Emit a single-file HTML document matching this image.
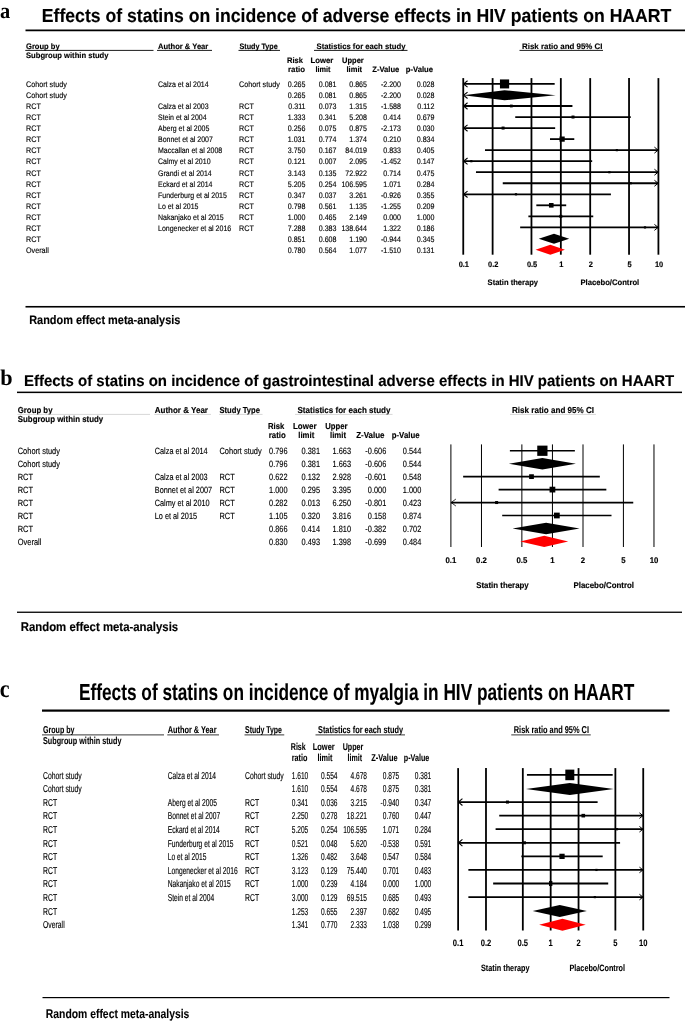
<!DOCTYPE html>
<html lang="en">
<head>
<meta charset="utf-8">
<title>Effects of statins in HIV patients on HAART - forest plots</title>
<style>
html,body{margin:0;padding:0;background:#fff;}
body{width:685px;height:1023px;overflow:hidden;}
svg{display:block;will-change:transform;}
text{font-family:"Liberation Sans",sans-serif;fill:#000;}
text.r{stroke:#000;stroke-width:0.14px;}
text.b{font-weight:bold;stroke:#000;stroke-width:0.15px;}
g.pc text.r{stroke-width:0.14px;}
g.pc text.b{stroke-width:0.08px;}
text.sb{font-family:"Liberation Serif",serif;font-weight:bold;}
</style>
</head>
<body>
<svg width="685" height="1023" viewBox="0 0 685 1023" shape-rendering="auto" text-rendering="geometricPrecision">
<rect x="0" y="0" width="685" height="1023" fill="#fff"/>
<g id="panel-a" class="pa">
<text class="sb" x="0.10" y="18.00" font-size="22.00" textLength="10.20" lengthAdjust="spacingAndGlyphs">a</text>
<text class="b" x="41.80" y="22.00" font-size="18.90" textLength="629.50" lengthAdjust="spacingAndGlyphs">Effects of statins on incidence of adverse effects in HIV patients on HAART</text>
<rect x="25.50" y="29.50" width="659.50" height="1.75" fill="#000"/>
<rect x="25.50" y="305.95" width="659.50" height="1.60" fill="#000"/>
<text class="b" x="26.00" y="48.60" font-size="8.00" textLength="33.60" lengthAdjust="spacingAndGlyphs">Group by</text>
<text class="b" x="26.00" y="58.00" font-size="8.00" textLength="82.50" lengthAdjust="spacingAndGlyphs">Subgroup within study</text>
<text class="b" x="158.00" y="48.60" font-size="8.00" textLength="50.25" lengthAdjust="spacingAndGlyphs">Author &amp; Year</text>
<text class="b" x="239.50" y="48.60" font-size="8.00" textLength="38.25" lengthAdjust="spacingAndGlyphs">Study Type</text>
<text class="b" x="316.50" y="48.60" font-size="8.00" textLength="89.00" lengthAdjust="spacingAndGlyphs">Statistics for each study</text>
<text class="b" x="522.00" y="48.60" font-size="8.00" textLength="80.50" lengthAdjust="spacingAndGlyphs">Risk ratio and 95% CI</text>
<text class="b" x="287.00" y="62.75" font-size="8.00" textLength="16.00" lengthAdjust="spacingAndGlyphs">Risk</text>
<text class="b" x="288.00" y="71.75" font-size="8.00" textLength="17.00" lengthAdjust="spacingAndGlyphs">ratio</text>
<text class="b" x="310.50" y="62.75" font-size="8.00" textLength="22.75" lengthAdjust="spacingAndGlyphs">Lower</text>
<text class="b" x="315.50" y="71.75" font-size="8.00" textLength="15.00" lengthAdjust="spacingAndGlyphs">limit</text>
<text class="b" x="342.00" y="62.75" font-size="8.00" textLength="21.75" lengthAdjust="spacingAndGlyphs">Upper</text>
<text class="b" x="346.50" y="71.75" font-size="8.00" textLength="15.50" lengthAdjust="spacingAndGlyphs">limit</text>
<text class="b" x="372.25" y="71.75" font-size="8.00" textLength="27.00" lengthAdjust="spacingAndGlyphs">Z-Value</text>
<text class="b" x="405.75" y="71.75" font-size="8.00" textLength="27.25" lengthAdjust="spacingAndGlyphs">p-Value</text>
<line x1="25.30" y1="50.40" x2="153.50" y2="50.40" stroke="#000" stroke-width="0.90"/>
<line x1="157.00" y1="50.40" x2="212.00" y2="50.40" stroke="#000" stroke-width="0.90"/>
<line x1="238.50" y1="50.40" x2="280.00" y2="50.40" stroke="#000" stroke-width="0.90"/>
<line x1="314.00" y1="50.40" x2="407.50" y2="50.40" stroke="#000" stroke-width="0.90"/>
<line x1="519.50" y1="50.40" x2="603.00" y2="50.40" stroke="#000" stroke-width="0.90"/>
<text class="b" x="29.20" y="323.90" font-size="12.30" textLength="151.20" lengthAdjust="spacingAndGlyphs">Random effect meta-analysis</text>
<text class="r" x="26.00" y="87.00" font-size="8.00" textLength="40.82" lengthAdjust="spacingAndGlyphs">Cohort study</text>
<text class="r" x="158.00" y="87.00" font-size="8.00" textLength="50.59" lengthAdjust="spacingAndGlyphs">Calza et al 2014</text>
<text class="r" x="239.00" y="87.00" font-size="8.00" textLength="40.82" lengthAdjust="spacingAndGlyphs">Cohort study</text>
<text class="r" x="305.50" y="87.00" font-size="8.00" text-anchor="end" textLength="17.72" lengthAdjust="spacingAndGlyphs">0.265</text>
<text class="r" x="336.50" y="87.00" font-size="8.00" text-anchor="end" textLength="17.72" lengthAdjust="spacingAndGlyphs">0.081</text>
<text class="r" x="367.00" y="87.00" font-size="8.00" text-anchor="end" textLength="17.72" lengthAdjust="spacingAndGlyphs">0.865</text>
<text class="r" x="401.00" y="87.00" font-size="8.00" text-anchor="end" textLength="20.08" lengthAdjust="spacingAndGlyphs">-2.200</text>
<text class="r" x="434.50" y="87.00" font-size="8.00" text-anchor="end" textLength="17.72" lengthAdjust="spacingAndGlyphs">0.028</text>
<text class="r" x="26.00" y="98.07" font-size="8.00" textLength="40.82" lengthAdjust="spacingAndGlyphs">Cohort study</text>
<text class="r" x="305.50" y="98.07" font-size="8.00" text-anchor="end" textLength="17.72" lengthAdjust="spacingAndGlyphs">0.265</text>
<text class="r" x="336.50" y="98.07" font-size="8.00" text-anchor="end" textLength="17.72" lengthAdjust="spacingAndGlyphs">0.081</text>
<text class="r" x="367.00" y="98.07" font-size="8.00" text-anchor="end" textLength="17.72" lengthAdjust="spacingAndGlyphs">0.865</text>
<text class="r" x="401.00" y="98.07" font-size="8.00" text-anchor="end" textLength="20.08" lengthAdjust="spacingAndGlyphs">-2.200</text>
<text class="r" x="434.50" y="98.07" font-size="8.00" text-anchor="end" textLength="17.72" lengthAdjust="spacingAndGlyphs">0.028</text>
<text class="r" x="26.00" y="109.14" font-size="8.00" textLength="14.80" lengthAdjust="spacingAndGlyphs">RCT</text>
<text class="r" x="158.00" y="109.14" font-size="8.00" textLength="50.59" lengthAdjust="spacingAndGlyphs">Calza et al 2003</text>
<text class="r" x="239.00" y="109.14" font-size="8.00" textLength="14.80" lengthAdjust="spacingAndGlyphs">RCT</text>
<text class="r" x="305.50" y="109.14" font-size="8.00" text-anchor="end" textLength="17.19" lengthAdjust="spacingAndGlyphs">0.311</text>
<text class="r" x="336.50" y="109.14" font-size="8.00" text-anchor="end" textLength="17.72" lengthAdjust="spacingAndGlyphs">0.073</text>
<text class="r" x="367.00" y="109.14" font-size="8.00" text-anchor="end" textLength="17.72" lengthAdjust="spacingAndGlyphs">1.315</text>
<text class="r" x="401.00" y="109.14" font-size="8.00" text-anchor="end" textLength="20.08" lengthAdjust="spacingAndGlyphs">-1.588</text>
<text class="r" x="434.50" y="109.14" font-size="8.00" text-anchor="end" textLength="17.19" lengthAdjust="spacingAndGlyphs">0.112</text>
<text class="r" x="26.00" y="120.21" font-size="8.00" textLength="14.80" lengthAdjust="spacingAndGlyphs">RCT</text>
<text class="r" x="158.00" y="120.21" font-size="8.00" textLength="48.65" lengthAdjust="spacingAndGlyphs">Stein et al 2004</text>
<text class="r" x="239.00" y="120.21" font-size="8.00" textLength="14.80" lengthAdjust="spacingAndGlyphs">RCT</text>
<text class="r" x="305.50" y="120.21" font-size="8.00" text-anchor="end" textLength="17.72" lengthAdjust="spacingAndGlyphs">1.333</text>
<text class="r" x="336.50" y="120.21" font-size="8.00" text-anchor="end" textLength="17.72" lengthAdjust="spacingAndGlyphs">0.341</text>
<text class="r" x="367.00" y="120.21" font-size="8.00" text-anchor="end" textLength="17.72" lengthAdjust="spacingAndGlyphs">5.208</text>
<text class="r" x="401.00" y="120.21" font-size="8.00" text-anchor="end" textLength="17.72" lengthAdjust="spacingAndGlyphs">0.414</text>
<text class="r" x="434.50" y="120.21" font-size="8.00" text-anchor="end" textLength="17.72" lengthAdjust="spacingAndGlyphs">0.679</text>
<text class="r" x="26.00" y="131.28" font-size="8.00" textLength="14.80" lengthAdjust="spacingAndGlyphs">RCT</text>
<text class="r" x="158.00" y="131.28" font-size="8.00" textLength="51.37" lengthAdjust="spacingAndGlyphs">Aberg et al 2005</text>
<text class="r" x="239.00" y="131.28" font-size="8.00" textLength="14.80" lengthAdjust="spacingAndGlyphs">RCT</text>
<text class="r" x="305.50" y="131.28" font-size="8.00" text-anchor="end" textLength="17.72" lengthAdjust="spacingAndGlyphs">0.256</text>
<text class="r" x="336.50" y="131.28" font-size="8.00" text-anchor="end" textLength="17.72" lengthAdjust="spacingAndGlyphs">0.075</text>
<text class="r" x="367.00" y="131.28" font-size="8.00" text-anchor="end" textLength="17.72" lengthAdjust="spacingAndGlyphs">0.875</text>
<text class="r" x="401.00" y="131.28" font-size="8.00" text-anchor="end" textLength="20.08" lengthAdjust="spacingAndGlyphs">-2.173</text>
<text class="r" x="434.50" y="131.28" font-size="8.00" text-anchor="end" textLength="17.72" lengthAdjust="spacingAndGlyphs">0.030</text>
<text class="r" x="26.00" y="142.35" font-size="8.00" textLength="14.80" lengthAdjust="spacingAndGlyphs">RCT</text>
<text class="r" x="158.00" y="142.35" font-size="8.00" textLength="54.88" lengthAdjust="spacingAndGlyphs">Bonnet et al 2007</text>
<text class="r" x="239.00" y="142.35" font-size="8.00" textLength="14.80" lengthAdjust="spacingAndGlyphs">RCT</text>
<text class="r" x="305.50" y="142.35" font-size="8.00" text-anchor="end" textLength="17.72" lengthAdjust="spacingAndGlyphs">1.031</text>
<text class="r" x="336.50" y="142.35" font-size="8.00" text-anchor="end" textLength="17.72" lengthAdjust="spacingAndGlyphs">0.774</text>
<text class="r" x="367.00" y="142.35" font-size="8.00" text-anchor="end" textLength="17.72" lengthAdjust="spacingAndGlyphs">1.374</text>
<text class="r" x="401.00" y="142.35" font-size="8.00" text-anchor="end" textLength="17.72" lengthAdjust="spacingAndGlyphs">0.210</text>
<text class="r" x="434.50" y="142.35" font-size="8.00" text-anchor="end" textLength="17.72" lengthAdjust="spacingAndGlyphs">0.834</text>
<text class="r" x="26.00" y="153.42" font-size="8.00" textLength="14.80" lengthAdjust="spacingAndGlyphs">RCT</text>
<text class="r" x="158.00" y="153.42" font-size="8.00" textLength="64.21" lengthAdjust="spacingAndGlyphs">Maccallan et al 2008</text>
<text class="r" x="239.00" y="153.42" font-size="8.00" textLength="14.80" lengthAdjust="spacingAndGlyphs">RCT</text>
<text class="r" x="305.50" y="153.42" font-size="8.00" text-anchor="end" textLength="17.72" lengthAdjust="spacingAndGlyphs">3.750</text>
<text class="r" x="336.50" y="153.42" font-size="8.00" text-anchor="end" textLength="17.72" lengthAdjust="spacingAndGlyphs">0.167</text>
<text class="r" x="367.00" y="153.42" font-size="8.00" text-anchor="end" textLength="21.66" lengthAdjust="spacingAndGlyphs">84.019</text>
<text class="r" x="401.00" y="153.42" font-size="8.00" text-anchor="end" textLength="17.72" lengthAdjust="spacingAndGlyphs">0.833</text>
<text class="r" x="434.50" y="153.42" font-size="8.00" text-anchor="end" textLength="17.72" lengthAdjust="spacingAndGlyphs">0.405</text>
<text class="r" x="26.00" y="164.49" font-size="8.00" textLength="14.80" lengthAdjust="spacingAndGlyphs">RCT</text>
<text class="r" x="158.00" y="164.49" font-size="8.00" textLength="52.53" lengthAdjust="spacingAndGlyphs">Calmy et al 2010</text>
<text class="r" x="239.00" y="164.49" font-size="8.00" textLength="14.80" lengthAdjust="spacingAndGlyphs">RCT</text>
<text class="r" x="305.50" y="164.49" font-size="8.00" text-anchor="end" textLength="17.72" lengthAdjust="spacingAndGlyphs">0.121</text>
<text class="r" x="336.50" y="164.49" font-size="8.00" text-anchor="end" textLength="17.72" lengthAdjust="spacingAndGlyphs">0.007</text>
<text class="r" x="367.00" y="164.49" font-size="8.00" text-anchor="end" textLength="17.72" lengthAdjust="spacingAndGlyphs">2.095</text>
<text class="r" x="401.00" y="164.49" font-size="8.00" text-anchor="end" textLength="20.08" lengthAdjust="spacingAndGlyphs">-1.452</text>
<text class="r" x="434.50" y="164.49" font-size="8.00" text-anchor="end" textLength="17.72" lengthAdjust="spacingAndGlyphs">0.147</text>
<text class="r" x="26.00" y="175.56" font-size="8.00" textLength="14.80" lengthAdjust="spacingAndGlyphs">RCT</text>
<text class="r" x="158.00" y="175.56" font-size="8.00" textLength="53.70" lengthAdjust="spacingAndGlyphs">Grandi et al 2014</text>
<text class="r" x="239.00" y="175.56" font-size="8.00" textLength="14.80" lengthAdjust="spacingAndGlyphs">RCT</text>
<text class="r" x="305.50" y="175.56" font-size="8.00" text-anchor="end" textLength="17.72" lengthAdjust="spacingAndGlyphs">3.143</text>
<text class="r" x="336.50" y="175.56" font-size="8.00" text-anchor="end" textLength="17.72" lengthAdjust="spacingAndGlyphs">0.135</text>
<text class="r" x="367.00" y="175.56" font-size="8.00" text-anchor="end" textLength="21.66" lengthAdjust="spacingAndGlyphs">72.922</text>
<text class="r" x="401.00" y="175.56" font-size="8.00" text-anchor="end" textLength="17.72" lengthAdjust="spacingAndGlyphs">0.714</text>
<text class="r" x="434.50" y="175.56" font-size="8.00" text-anchor="end" textLength="17.72" lengthAdjust="spacingAndGlyphs">0.475</text>
<text class="r" x="26.00" y="186.63" font-size="8.00" textLength="14.80" lengthAdjust="spacingAndGlyphs">RCT</text>
<text class="r" x="158.00" y="186.63" font-size="8.00" textLength="54.48" lengthAdjust="spacingAndGlyphs">Eckard et al 2014</text>
<text class="r" x="239.00" y="186.63" font-size="8.00" textLength="14.80" lengthAdjust="spacingAndGlyphs">RCT</text>
<text class="r" x="305.50" y="186.63" font-size="8.00" text-anchor="end" textLength="17.72" lengthAdjust="spacingAndGlyphs">5.205</text>
<text class="r" x="336.50" y="186.63" font-size="8.00" text-anchor="end" textLength="17.72" lengthAdjust="spacingAndGlyphs">0.254</text>
<text class="r" x="367.00" y="186.63" font-size="8.00" text-anchor="end" textLength="25.59" lengthAdjust="spacingAndGlyphs">106.595</text>
<text class="r" x="401.00" y="186.63" font-size="8.00" text-anchor="end" textLength="17.72" lengthAdjust="spacingAndGlyphs">1.071</text>
<text class="r" x="434.50" y="186.63" font-size="8.00" text-anchor="end" textLength="17.72" lengthAdjust="spacingAndGlyphs">0.284</text>
<text class="r" x="26.00" y="197.70" font-size="8.00" textLength="14.80" lengthAdjust="spacingAndGlyphs">RCT</text>
<text class="r" x="158.00" y="197.70" font-size="8.00" textLength="68.88" lengthAdjust="spacingAndGlyphs">Funderburg et al 2015</text>
<text class="r" x="239.00" y="197.70" font-size="8.00" textLength="14.80" lengthAdjust="spacingAndGlyphs">RCT</text>
<text class="r" x="305.50" y="197.70" font-size="8.00" text-anchor="end" textLength="17.72" lengthAdjust="spacingAndGlyphs">0.347</text>
<text class="r" x="336.50" y="197.70" font-size="8.00" text-anchor="end" textLength="17.72" lengthAdjust="spacingAndGlyphs">0.037</text>
<text class="r" x="367.00" y="197.70" font-size="8.00" text-anchor="end" textLength="17.72" lengthAdjust="spacingAndGlyphs">3.261</text>
<text class="r" x="401.00" y="197.70" font-size="8.00" text-anchor="end" textLength="20.08" lengthAdjust="spacingAndGlyphs">-0.926</text>
<text class="r" x="434.50" y="197.70" font-size="8.00" text-anchor="end" textLength="17.72" lengthAdjust="spacingAndGlyphs">0.355</text>
<text class="r" x="26.00" y="208.77" font-size="8.00" textLength="14.80" lengthAdjust="spacingAndGlyphs">RCT</text>
<text class="r" x="158.00" y="208.77" font-size="8.00" textLength="40.48" lengthAdjust="spacingAndGlyphs">Lo et al 2015</text>
<text class="r" x="239.00" y="208.77" font-size="8.00" textLength="14.80" lengthAdjust="spacingAndGlyphs">RCT</text>
<text class="r" x="305.50" y="208.77" font-size="8.00" text-anchor="end" textLength="17.72" lengthAdjust="spacingAndGlyphs">0.798</text>
<text class="r" x="336.50" y="208.77" font-size="8.00" text-anchor="end" textLength="17.72" lengthAdjust="spacingAndGlyphs">0.561</text>
<text class="r" x="367.00" y="208.77" font-size="8.00" text-anchor="end" textLength="17.72" lengthAdjust="spacingAndGlyphs">1.135</text>
<text class="r" x="401.00" y="208.77" font-size="8.00" text-anchor="end" textLength="20.08" lengthAdjust="spacingAndGlyphs">-1.255</text>
<text class="r" x="434.50" y="208.77" font-size="8.00" text-anchor="end" textLength="17.72" lengthAdjust="spacingAndGlyphs">0.209</text>
<text class="r" x="26.00" y="219.84" font-size="8.00" textLength="14.80" lengthAdjust="spacingAndGlyphs">RCT</text>
<text class="r" x="158.00" y="219.84" font-size="8.00" textLength="65.77" lengthAdjust="spacingAndGlyphs">Nakanjako et al 2015</text>
<text class="r" x="239.00" y="219.84" font-size="8.00" textLength="14.80" lengthAdjust="spacingAndGlyphs">RCT</text>
<text class="r" x="305.50" y="219.84" font-size="8.00" text-anchor="end" textLength="17.72" lengthAdjust="spacingAndGlyphs">1.000</text>
<text class="r" x="336.50" y="219.84" font-size="8.00" text-anchor="end" textLength="17.72" lengthAdjust="spacingAndGlyphs">0.465</text>
<text class="r" x="367.00" y="219.84" font-size="8.00" text-anchor="end" textLength="17.72" lengthAdjust="spacingAndGlyphs">2.149</text>
<text class="r" x="401.00" y="219.84" font-size="8.00" text-anchor="end" textLength="17.72" lengthAdjust="spacingAndGlyphs">0.000</text>
<text class="r" x="434.50" y="219.84" font-size="8.00" text-anchor="end" textLength="17.72" lengthAdjust="spacingAndGlyphs">1.000</text>
<text class="r" x="26.00" y="230.91" font-size="8.00" textLength="14.80" lengthAdjust="spacingAndGlyphs">RCT</text>
<text class="r" x="158.00" y="230.91" font-size="8.00" textLength="73.17" lengthAdjust="spacingAndGlyphs">Longenecker et al 2016</text>
<text class="r" x="239.00" y="230.91" font-size="8.00" textLength="14.80" lengthAdjust="spacingAndGlyphs">RCT</text>
<text class="r" x="305.50" y="230.91" font-size="8.00" text-anchor="end" textLength="17.72" lengthAdjust="spacingAndGlyphs">7.288</text>
<text class="r" x="336.50" y="230.91" font-size="8.00" text-anchor="end" textLength="17.72" lengthAdjust="spacingAndGlyphs">0.383</text>
<text class="r" x="367.00" y="230.91" font-size="8.00" text-anchor="end" textLength="25.59" lengthAdjust="spacingAndGlyphs">138.644</text>
<text class="r" x="401.00" y="230.91" font-size="8.00" text-anchor="end" textLength="17.72" lengthAdjust="spacingAndGlyphs">1.322</text>
<text class="r" x="434.50" y="230.91" font-size="8.00" text-anchor="end" textLength="17.72" lengthAdjust="spacingAndGlyphs">0.186</text>
<text class="r" x="26.00" y="241.98" font-size="8.00" textLength="14.80" lengthAdjust="spacingAndGlyphs">RCT</text>
<text class="r" x="305.50" y="241.98" font-size="8.00" text-anchor="end" textLength="17.72" lengthAdjust="spacingAndGlyphs">0.851</text>
<text class="r" x="336.50" y="241.98" font-size="8.00" text-anchor="end" textLength="17.72" lengthAdjust="spacingAndGlyphs">0.608</text>
<text class="r" x="367.00" y="241.98" font-size="8.00" text-anchor="end" textLength="17.72" lengthAdjust="spacingAndGlyphs">1.190</text>
<text class="r" x="401.00" y="241.98" font-size="8.00" text-anchor="end" textLength="20.08" lengthAdjust="spacingAndGlyphs">-0.944</text>
<text class="r" x="434.50" y="241.98" font-size="8.00" text-anchor="end" textLength="17.72" lengthAdjust="spacingAndGlyphs">0.345</text>
<text class="r" x="26.00" y="253.05" font-size="8.00" textLength="22.81" lengthAdjust="spacingAndGlyphs">Overall</text>
<text class="r" x="305.50" y="253.05" font-size="8.00" text-anchor="end" textLength="17.72" lengthAdjust="spacingAndGlyphs">0.780</text>
<text class="r" x="336.50" y="253.05" font-size="8.00" text-anchor="end" textLength="17.72" lengthAdjust="spacingAndGlyphs">0.564</text>
<text class="r" x="367.00" y="253.05" font-size="8.00" text-anchor="end" textLength="17.72" lengthAdjust="spacingAndGlyphs">1.077</text>
<text class="r" x="401.00" y="253.05" font-size="8.00" text-anchor="end" textLength="20.08" lengthAdjust="spacingAndGlyphs">-1.510</text>
<text class="r" x="434.50" y="253.05" font-size="8.00" text-anchor="end" textLength="17.72" lengthAdjust="spacingAndGlyphs">0.131</text>
<line x1="463.25" y1="78.10" x2="463.25" y2="254.70" stroke="#000" stroke-width="1.80"/>
<text class="b" x="463.85" y="267.00" font-size="7.90" text-anchor="middle" textLength="10.32" lengthAdjust="spacingAndGlyphs">0.1</text>
<line x1="492.62" y1="78.10" x2="492.62" y2="254.70" stroke="#000" stroke-width="1.80"/>
<text class="b" x="493.22" y="267.00" font-size="7.90" text-anchor="middle" textLength="10.32" lengthAdjust="spacingAndGlyphs">0.2</text>
<line x1="531.46" y1="78.10" x2="531.46" y2="254.70" stroke="#000" stroke-width="1.80"/>
<text class="b" x="532.06" y="267.00" font-size="7.90" text-anchor="middle" textLength="10.32" lengthAdjust="spacingAndGlyphs">0.5</text>
<line x1="560.83" y1="78.10" x2="560.83" y2="254.70" stroke="#000" stroke-width="1.80"/>
<text class="b" x="561.43" y="267.00" font-size="7.90" text-anchor="middle" textLength="4.13" lengthAdjust="spacingAndGlyphs">1</text>
<line x1="590.20" y1="78.10" x2="590.20" y2="254.70" stroke="#000" stroke-width="1.80"/>
<text class="b" x="590.80" y="267.00" font-size="7.90" text-anchor="middle" textLength="4.13" lengthAdjust="spacingAndGlyphs">2</text>
<line x1="629.04" y1="78.10" x2="629.04" y2="254.70" stroke="#000" stroke-width="1.80"/>
<text class="b" x="629.64" y="267.00" font-size="7.90" text-anchor="middle" textLength="4.13" lengthAdjust="spacingAndGlyphs">5</text>
<line x1="658.41" y1="78.10" x2="658.41" y2="254.70" stroke="#000" stroke-width="1.80"/>
<text class="b" x="659.01" y="267.00" font-size="7.90" text-anchor="middle" textLength="8.26" lengthAdjust="spacingAndGlyphs">10</text>
<text class="b" x="487.60" y="285.40" font-size="8.00" textLength="50.40" lengthAdjust="spacingAndGlyphs">Statin therapy</text>
<text class="b" x="580.50" y="285.40" font-size="8.00" textLength="58.70" lengthAdjust="spacingAndGlyphs">Placebo/Control</text>
<line x1="463.25" y1="83.93" x2="554.68" y2="83.93" stroke="#000" stroke-width="1.80"/>
<polyline points="467.55,80.73 463.55,83.93 467.55,87.13" fill="none" stroke="#000" stroke-width="1.1"/>
<rect x="499.95" y="79.43" width="9.20" height="9.00" fill="#000"/>
<polygon points="463.25,95.27 504.55,90.27 555.68,95.27 504.55,100.27" fill="#000"/>
<polyline points="467.55,92.06 463.55,95.27 467.55,98.47" fill="none" stroke="#000" stroke-width="1.1"/>
<line x1="463.25" y1="106.00" x2="572.43" y2="106.00" stroke="#000" stroke-width="1.80"/>
<polyline points="467.55,102.80 463.55,106.00 467.55,109.20" fill="none" stroke="#000" stroke-width="1.1"/>
<rect x="509.93" y="104.60" width="2.80" height="2.80" fill="#000"/>
<line x1="515.24" y1="117.04" x2="630.76" y2="117.04" stroke="#000" stroke-width="1.80"/>
<rect x="571.51" y="115.54" width="3.00" height="3.00" fill="#000"/>
<line x1="463.25" y1="128.07" x2="555.17" y2="128.07" stroke="#000" stroke-width="1.80"/>
<polyline points="467.55,124.87 463.55,128.07 467.55,131.27" fill="none" stroke="#000" stroke-width="1.1"/>
<rect x="501.59" y="126.57" width="3.00" height="3.00" fill="#000"/>
<line x1="549.97" y1="139.11" x2="574.29" y2="139.11" stroke="#000" stroke-width="1.80"/>
<rect x="559.52" y="136.51" width="5.20" height="5.20" fill="#000"/>
<line x1="484.98" y1="150.14" x2="658.41" y2="150.14" stroke="#000" stroke-width="1.80"/>
<polyline points="654.41,147.14 658.11,150.14 654.41,153.14" fill="none" stroke="#000" stroke-width="1.0"/>
<rect x="615.74" y="149.04" width="2.20" height="2.20" fill="#000"/>
<line x1="463.25" y1="161.18" x2="592.17" y2="161.18" stroke="#000" stroke-width="1.80"/>
<polyline points="467.55,157.98 463.55,161.18 467.55,164.38" fill="none" stroke="#000" stroke-width="1.1"/>
<rect x="470.23" y="160.08" width="2.20" height="2.20" fill="#000"/>
<line x1="475.97" y1="172.21" x2="658.41" y2="172.21" stroke="#000" stroke-width="1.80"/>
<polyline points="654.41,169.21 658.11,172.21 654.41,175.21" fill="none" stroke="#000" stroke-width="1.0"/>
<rect x="608.26" y="171.11" width="2.20" height="2.20" fill="#000"/>
<line x1="502.75" y1="183.25" x2="658.41" y2="183.25" stroke="#000" stroke-width="1.80"/>
<polyline points="654.41,180.25 658.11,183.25 654.41,186.25" fill="none" stroke="#000" stroke-width="1.0"/>
<rect x="629.64" y="182.15" width="2.20" height="2.20" fill="#000"/>
<line x1="463.25" y1="194.28" x2="610.92" y2="194.28" stroke="#000" stroke-width="1.80"/>
<polyline points="467.55,191.08 463.55,194.28 467.55,197.48" fill="none" stroke="#000" stroke-width="1.1"/>
<rect x="514.88" y="193.18" width="2.20" height="2.20" fill="#000"/>
<line x1="536.33" y1="205.31" x2="566.20" y2="205.31" stroke="#000" stroke-width="1.80"/>
<rect x="548.97" y="203.01" width="4.60" height="4.60" fill="#000"/>
<line x1="528.38" y1="216.35" x2="593.25" y2="216.35" stroke="#000" stroke-width="1.80"/>
<rect x="559.33" y="214.85" width="3.00" height="3.00" fill="#000"/>
<line x1="520.16" y1="227.39" x2="658.41" y2="227.39" stroke="#000" stroke-width="1.80"/>
<polyline points="654.41,224.39 658.11,227.39 654.41,230.39" fill="none" stroke="#000" stroke-width="1.0"/>
<rect x="643.90" y="226.29" width="2.20" height="2.20" fill="#000"/>
<polygon points="538.74,238.72 553.99,233.72 569.20,238.72 553.99,243.72" fill="#000"/>
<polygon points="535.56,249.76 550.30,244.76 564.97,249.76 550.30,254.76" fill="#f00"/>
</g>
<g id="panel-b" class="pb">
<text class="sb" x="0.30" y="385.00" font-size="22.20" textLength="12.35" lengthAdjust="spacingAndGlyphs">b</text>
<text class="b" x="24.00" y="385.75" font-size="15.60" textLength="650.20" lengthAdjust="spacingAndGlyphs">Effects of statins on incidence of gastrointestinal adverse effects in HIV patients on HAART</text>
<rect x="17.00" y="391.60" width="665.00" height="1.50" fill="#000"/>
<rect x="17.00" y="611.60" width="665.00" height="1.30" fill="#000"/>
<text class="b" x="17.75" y="413.00" font-size="8.70" textLength="34.75" lengthAdjust="spacingAndGlyphs">Group by</text>
<text class="b" x="17.75" y="421.75" font-size="8.70" textLength="85.50" lengthAdjust="spacingAndGlyphs">Subgroup within study</text>
<text class="b" x="154.75" y="413.00" font-size="8.70" textLength="53.25" lengthAdjust="spacingAndGlyphs">Author &amp; Year</text>
<text class="b" x="219.50" y="413.00" font-size="8.70" textLength="40.50" lengthAdjust="spacingAndGlyphs">Study Type</text>
<text class="b" x="297.50" y="413.00" font-size="8.70" textLength="93.00" lengthAdjust="spacingAndGlyphs">Statistics for each study</text>
<text class="b" x="512.00" y="412.60" font-size="8.70" textLength="82.00" lengthAdjust="spacingAndGlyphs">Risk ratio and 95% CI</text>
<text class="b" x="268.00" y="428.75" font-size="8.70" textLength="16.25" lengthAdjust="spacingAndGlyphs">Risk</text>
<text class="b" x="268.75" y="437.75" font-size="8.70" textLength="17.00" lengthAdjust="spacingAndGlyphs">ratio</text>
<text class="b" x="293.00" y="428.75" font-size="8.70" textLength="23.50" lengthAdjust="spacingAndGlyphs">Lower</text>
<text class="b" x="298.25" y="437.75" font-size="8.70" textLength="16.00" lengthAdjust="spacingAndGlyphs">limit</text>
<text class="b" x="325.25" y="428.75" font-size="8.70" textLength="22.25" lengthAdjust="spacingAndGlyphs">Upper</text>
<text class="b" x="330.00" y="437.75" font-size="8.70" textLength="16.00" lengthAdjust="spacingAndGlyphs">limit</text>
<text class="b" x="356.25" y="437.75" font-size="8.70" textLength="28.25" lengthAdjust="spacingAndGlyphs">Z-Value</text>
<text class="b" x="391.75" y="437.75" font-size="8.70" textLength="27.75" lengthAdjust="spacingAndGlyphs">p-Value</text>
<line x1="17.50" y1="414.40" x2="150.00" y2="414.40" stroke="#bbb" stroke-width="0.60"/>
<line x1="154.25" y1="414.40" x2="211.00" y2="414.40" stroke="#bbb" stroke-width="0.60"/>
<line x1="219.00" y1="414.40" x2="262.50" y2="414.40" stroke="#bbb" stroke-width="0.60"/>
<line x1="295.00" y1="414.40" x2="392.50" y2="414.40" stroke="#bbb" stroke-width="0.60"/>
<line x1="510.00" y1="414.40" x2="596.00" y2="414.40" stroke="#bbb" stroke-width="0.60"/>
<text class="b" x="20.70" y="630.70" font-size="12.60" textLength="157.50" lengthAdjust="spacingAndGlyphs">Random effect meta-analysis</text>
<text class="r" x="17.75" y="453.90" font-size="9.10" textLength="42.20" lengthAdjust="spacingAndGlyphs">Cohort study</text>
<text class="r" x="154.75" y="453.90" font-size="9.10" textLength="52.88" lengthAdjust="spacingAndGlyphs">Calza et al 2014</text>
<text class="r" x="219.50" y="453.90" font-size="9.10" textLength="42.20" lengthAdjust="spacingAndGlyphs">Cohort study</text>
<text class="r" x="287.50" y="453.90" font-size="9.10" text-anchor="end" textLength="18.42" lengthAdjust="spacingAndGlyphs">0.796</text>
<text class="r" x="320.00" y="453.90" font-size="9.10" text-anchor="end" textLength="18.42" lengthAdjust="spacingAndGlyphs">0.381</text>
<text class="r" x="351.00" y="453.90" font-size="9.10" text-anchor="end" textLength="18.42" lengthAdjust="spacingAndGlyphs">1.663</text>
<text class="r" x="386.25" y="453.90" font-size="9.10" text-anchor="end" textLength="20.88" lengthAdjust="spacingAndGlyphs">-0.606</text>
<text class="r" x="421.25" y="453.90" font-size="9.10" text-anchor="end" textLength="18.42" lengthAdjust="spacingAndGlyphs">0.544</text>
<text class="r" x="17.75" y="466.86" font-size="9.10" textLength="42.20" lengthAdjust="spacingAndGlyphs">Cohort study</text>
<text class="r" x="287.50" y="466.86" font-size="9.10" text-anchor="end" textLength="18.42" lengthAdjust="spacingAndGlyphs">0.796</text>
<text class="r" x="320.00" y="466.86" font-size="9.10" text-anchor="end" textLength="18.42" lengthAdjust="spacingAndGlyphs">0.381</text>
<text class="r" x="351.00" y="466.86" font-size="9.10" text-anchor="end" textLength="18.42" lengthAdjust="spacingAndGlyphs">1.663</text>
<text class="r" x="386.25" y="466.86" font-size="9.10" text-anchor="end" textLength="20.88" lengthAdjust="spacingAndGlyphs">-0.606</text>
<text class="r" x="421.25" y="466.86" font-size="9.10" text-anchor="end" textLength="18.42" lengthAdjust="spacingAndGlyphs">0.544</text>
<text class="r" x="17.75" y="479.82" font-size="9.10" textLength="15.30" lengthAdjust="spacingAndGlyphs">RCT</text>
<text class="r" x="154.75" y="479.82" font-size="9.10" textLength="52.88" lengthAdjust="spacingAndGlyphs">Calza et al 2003</text>
<text class="r" x="219.50" y="479.82" font-size="9.10" textLength="15.30" lengthAdjust="spacingAndGlyphs">RCT</text>
<text class="r" x="287.50" y="479.82" font-size="9.10" text-anchor="end" textLength="18.42" lengthAdjust="spacingAndGlyphs">0.622</text>
<text class="r" x="320.00" y="479.82" font-size="9.10" text-anchor="end" textLength="18.42" lengthAdjust="spacingAndGlyphs">0.132</text>
<text class="r" x="351.00" y="479.82" font-size="9.10" text-anchor="end" textLength="18.42" lengthAdjust="spacingAndGlyphs">2.928</text>
<text class="r" x="386.25" y="479.82" font-size="9.10" text-anchor="end" textLength="20.88" lengthAdjust="spacingAndGlyphs">-0.601</text>
<text class="r" x="421.25" y="479.82" font-size="9.10" text-anchor="end" textLength="18.42" lengthAdjust="spacingAndGlyphs">0.548</text>
<text class="r" x="17.75" y="492.78" font-size="9.10" textLength="15.30" lengthAdjust="spacingAndGlyphs">RCT</text>
<text class="r" x="154.75" y="492.78" font-size="9.10" textLength="57.36" lengthAdjust="spacingAndGlyphs">Bonnet et al 2007</text>
<text class="r" x="219.50" y="492.78" font-size="9.10" textLength="15.30" lengthAdjust="spacingAndGlyphs">RCT</text>
<text class="r" x="287.50" y="492.78" font-size="9.10" text-anchor="end" textLength="18.42" lengthAdjust="spacingAndGlyphs">1.000</text>
<text class="r" x="320.00" y="492.78" font-size="9.10" text-anchor="end" textLength="18.42" lengthAdjust="spacingAndGlyphs">0.295</text>
<text class="r" x="351.00" y="492.78" font-size="9.10" text-anchor="end" textLength="18.42" lengthAdjust="spacingAndGlyphs">3.395</text>
<text class="r" x="386.25" y="492.78" font-size="9.10" text-anchor="end" textLength="18.42" lengthAdjust="spacingAndGlyphs">0.000</text>
<text class="r" x="421.25" y="492.78" font-size="9.10" text-anchor="end" textLength="18.42" lengthAdjust="spacingAndGlyphs">1.000</text>
<text class="r" x="17.75" y="505.74" font-size="9.10" textLength="15.30" lengthAdjust="spacingAndGlyphs">RCT</text>
<text class="r" x="154.75" y="505.74" font-size="9.10" textLength="54.90" lengthAdjust="spacingAndGlyphs">Calmy et al 2010</text>
<text class="r" x="219.50" y="505.74" font-size="9.10" textLength="15.30" lengthAdjust="spacingAndGlyphs">RCT</text>
<text class="r" x="287.50" y="505.74" font-size="9.10" text-anchor="end" textLength="18.42" lengthAdjust="spacingAndGlyphs">0.282</text>
<text class="r" x="320.00" y="505.74" font-size="9.10" text-anchor="end" textLength="18.42" lengthAdjust="spacingAndGlyphs">0.013</text>
<text class="r" x="351.00" y="505.74" font-size="9.10" text-anchor="end" textLength="18.42" lengthAdjust="spacingAndGlyphs">6.250</text>
<text class="r" x="386.25" y="505.74" font-size="9.10" text-anchor="end" textLength="20.88" lengthAdjust="spacingAndGlyphs">-0.801</text>
<text class="r" x="421.25" y="505.74" font-size="9.10" text-anchor="end" textLength="18.42" lengthAdjust="spacingAndGlyphs">0.423</text>
<text class="r" x="17.75" y="518.70" font-size="9.10" textLength="15.30" lengthAdjust="spacingAndGlyphs">RCT</text>
<text class="r" x="154.75" y="518.70" font-size="9.10" textLength="42.31" lengthAdjust="spacingAndGlyphs">Lo et al 2015</text>
<text class="r" x="219.50" y="518.70" font-size="9.10" textLength="15.30" lengthAdjust="spacingAndGlyphs">RCT</text>
<text class="r" x="287.50" y="518.70" font-size="9.10" text-anchor="end" textLength="18.42" lengthAdjust="spacingAndGlyphs">1.105</text>
<text class="r" x="320.00" y="518.70" font-size="9.10" text-anchor="end" textLength="18.42" lengthAdjust="spacingAndGlyphs">0.320</text>
<text class="r" x="351.00" y="518.70" font-size="9.10" text-anchor="end" textLength="18.42" lengthAdjust="spacingAndGlyphs">3.816</text>
<text class="r" x="386.25" y="518.70" font-size="9.10" text-anchor="end" textLength="18.42" lengthAdjust="spacingAndGlyphs">0.158</text>
<text class="r" x="421.25" y="518.70" font-size="9.10" text-anchor="end" textLength="18.42" lengthAdjust="spacingAndGlyphs">0.874</text>
<text class="r" x="17.75" y="531.66" font-size="9.10" textLength="15.30" lengthAdjust="spacingAndGlyphs">RCT</text>
<text class="r" x="287.50" y="531.66" font-size="9.10" text-anchor="end" textLength="18.42" lengthAdjust="spacingAndGlyphs">0.866</text>
<text class="r" x="320.00" y="531.66" font-size="9.10" text-anchor="end" textLength="18.42" lengthAdjust="spacingAndGlyphs">0.414</text>
<text class="r" x="351.00" y="531.66" font-size="9.10" text-anchor="end" textLength="18.42" lengthAdjust="spacingAndGlyphs">1.810</text>
<text class="r" x="386.25" y="531.66" font-size="9.10" text-anchor="end" textLength="20.88" lengthAdjust="spacingAndGlyphs">-0.382</text>
<text class="r" x="421.25" y="531.66" font-size="9.10" text-anchor="end" textLength="18.42" lengthAdjust="spacingAndGlyphs">0.702</text>
<text class="r" x="17.75" y="544.62" font-size="9.10" textLength="23.58" lengthAdjust="spacingAndGlyphs">Overall</text>
<text class="r" x="287.50" y="544.62" font-size="9.10" text-anchor="end" textLength="18.42" lengthAdjust="spacingAndGlyphs">0.830</text>
<text class="r" x="320.00" y="544.62" font-size="9.10" text-anchor="end" textLength="18.42" lengthAdjust="spacingAndGlyphs">0.493</text>
<text class="r" x="351.00" y="544.62" font-size="9.10" text-anchor="end" textLength="18.42" lengthAdjust="spacingAndGlyphs">1.398</text>
<text class="r" x="386.25" y="544.62" font-size="9.10" text-anchor="end" textLength="20.88" lengthAdjust="spacingAndGlyphs">-0.699</text>
<text class="r" x="421.25" y="544.62" font-size="9.10" text-anchor="end" textLength="18.42" lengthAdjust="spacingAndGlyphs">0.484</text>
<line x1="450.90" y1="444.40" x2="450.90" y2="547.00" stroke="#000" stroke-width="1.00"/>
<text class="b" x="450.90" y="562.60" font-size="8.20" text-anchor="middle" textLength="10.83" lengthAdjust="spacingAndGlyphs">0.1</text>
<line x1="481.47" y1="444.40" x2="481.47" y2="547.00" stroke="#000" stroke-width="1.00"/>
<text class="b" x="481.47" y="562.60" font-size="8.20" text-anchor="middle" textLength="10.83" lengthAdjust="spacingAndGlyphs">0.2</text>
<line x1="521.87" y1="444.40" x2="521.87" y2="547.00" stroke="#000" stroke-width="1.00"/>
<text class="b" x="521.87" y="562.60" font-size="8.20" text-anchor="middle" textLength="10.83" lengthAdjust="spacingAndGlyphs">0.5</text>
<line x1="552.44" y1="444.40" x2="552.44" y2="547.00" stroke="#000" stroke-width="1.00"/>
<text class="b" x="552.44" y="562.60" font-size="8.20" text-anchor="middle" textLength="4.33" lengthAdjust="spacingAndGlyphs">1</text>
<line x1="583.01" y1="444.40" x2="583.01" y2="547.00" stroke="#000" stroke-width="1.00"/>
<text class="b" x="583.01" y="562.60" font-size="8.20" text-anchor="middle" textLength="4.33" lengthAdjust="spacingAndGlyphs">2</text>
<line x1="623.41" y1="444.40" x2="623.41" y2="547.00" stroke="#000" stroke-width="1.00"/>
<text class="b" x="623.41" y="562.60" font-size="8.20" text-anchor="middle" textLength="4.33" lengthAdjust="spacingAndGlyphs">5</text>
<line x1="653.98" y1="444.40" x2="653.98" y2="547.00" stroke="#000" stroke-width="1.00"/>
<text class="b" x="653.98" y="562.60" font-size="8.20" text-anchor="middle" textLength="8.67" lengthAdjust="spacingAndGlyphs">10</text>
<text class="b" x="476.25" y="587.60" font-size="8.40" textLength="52.50" lengthAdjust="spacingAndGlyphs">Statin therapy</text>
<text class="b" x="573.50" y="587.60" font-size="8.40" textLength="60.50" lengthAdjust="spacingAndGlyphs">Placebo/Control</text>
<line x1="509.89" y1="450.74" x2="574.87" y2="450.74" stroke="#000" stroke-width="1.70"/>
<rect x="537.25" y="445.62" width="10.25" height="10.25" fill="#000"/>
<polygon points="508.89,463.69 542.38,457.99 575.87,463.69 542.38,469.39" fill="#000"/>
<line x1="463.14" y1="476.64" x2="599.82" y2="476.64" stroke="#000" stroke-width="1.70"/>
<rect x="529.13" y="474.26" width="4.75" height="4.75" fill="#000"/>
<line x1="498.61" y1="489.59" x2="606.34" y2="489.59" stroke="#000" stroke-width="1.70"/>
<rect x="549.56" y="486.72" width="5.75" height="5.75" fill="#000"/>
<line x1="450.90" y1="502.54" x2="633.25" y2="502.54" stroke="#000" stroke-width="1.70"/>
<polyline points="455.90,499.04 451.20,502.54 455.90,506.04" fill="none" stroke="#000" stroke-width="0.8"/>
<rect x="495.12" y="501.04" width="3.00" height="3.00" fill="#000"/>
<line x1="502.19" y1="515.49" x2="611.50" y2="515.49" stroke="#000" stroke-width="1.70"/>
<rect x="553.97" y="512.62" width="5.75" height="5.75" fill="#000"/>
<polygon points="512.55,528.44 546.10,522.74 579.60,528.44 546.10,534.14" fill="#000"/>
<polygon points="520.25,541.39 544.22,535.69 568.21,541.39 544.22,547.09" fill="#f00"/>
</g>
<g id="panel-c" class="pc">
<text class="sb" x="-0.30" y="697.00" font-size="25.00" textLength="9.80" lengthAdjust="spacingAndGlyphs">c</text>
<text class="b" x="79.00" y="699.70" font-size="23.20" textLength="555.20" lengthAdjust="spacingAndGlyphs">Effects of statins on incidence of myalgia in HIV patients on HAART</text>
<rect x="42.00" y="709.50" width="627.50" height="2.20" fill="#000"/>
<rect x="42.50" y="997.00" width="627.00" height="1.20" fill="#000"/>
<text class="b" x="43.00" y="732.50" font-size="9.90" textLength="31.50" lengthAdjust="spacingAndGlyphs">Group by</text>
<text class="b" x="43.00" y="743.75" font-size="9.90" textLength="78.50" lengthAdjust="spacingAndGlyphs">Subgroup within study</text>
<text class="b" x="167.75" y="732.50" font-size="9.90" textLength="48.75" lengthAdjust="spacingAndGlyphs">Author &amp; Year</text>
<text class="b" x="245.00" y="732.50" font-size="9.90" textLength="37.00" lengthAdjust="spacingAndGlyphs">Study Type</text>
<text class="b" x="318.00" y="732.50" font-size="9.90" textLength="85.00" lengthAdjust="spacingAndGlyphs">Statistics for each study</text>
<text class="b" x="513.75" y="732.75" font-size="9.90" textLength="75.25" lengthAdjust="spacingAndGlyphs">Risk ratio and 95% CI</text>
<text class="b" x="290.75" y="750.00" font-size="9.90" textLength="15.00" lengthAdjust="spacingAndGlyphs">Risk</text>
<text class="b" x="291.75" y="760.75" font-size="9.90" textLength="15.75" lengthAdjust="spacingAndGlyphs">ratio</text>
<text class="b" x="312.75" y="750.00" font-size="9.90" textLength="22.00" lengthAdjust="spacingAndGlyphs">Lower</text>
<text class="b" x="317.50" y="760.75" font-size="9.90" textLength="15.00" lengthAdjust="spacingAndGlyphs">limit</text>
<text class="b" x="342.75" y="750.00" font-size="9.90" textLength="20.50" lengthAdjust="spacingAndGlyphs">Upper</text>
<text class="b" x="347.50" y="760.75" font-size="9.90" textLength="14.50" lengthAdjust="spacingAndGlyphs">limit</text>
<text class="b" x="371.25" y="760.75" font-size="9.90" textLength="26.25" lengthAdjust="spacingAndGlyphs">Z-Value</text>
<text class="b" x="403.75" y="760.75" font-size="9.90" textLength="25.50" lengthAdjust="spacingAndGlyphs">p-Value</text>
<line x1="42.00" y1="734.90" x2="164.00" y2="734.90" stroke="#222" stroke-width="0.90"/>
<line x1="167.25" y1="734.90" x2="219.00" y2="734.90" stroke="#222" stroke-width="0.90"/>
<line x1="244.50" y1="734.90" x2="284.25" y2="734.90" stroke="#222" stroke-width="0.90"/>
<line x1="315.50" y1="734.90" x2="405.00" y2="734.90" stroke="#222" stroke-width="0.90"/>
<line x1="511.25" y1="734.90" x2="590.75" y2="734.90" stroke="#222" stroke-width="0.90"/>
<text class="b" x="45.80" y="1017.50" font-size="12.60" textLength="143.60" lengthAdjust="spacingAndGlyphs">Random effect meta-analysis</text>
<text class="r" x="43.00" y="778.75" font-size="10.00" textLength="38.78" lengthAdjust="spacingAndGlyphs">Cohort study</text>
<text class="r" x="167.75" y="778.75" font-size="10.00" textLength="48.35" lengthAdjust="spacingAndGlyphs">Calza et al 2014</text>
<text class="r" x="245.00" y="778.75" font-size="10.00" textLength="38.78" lengthAdjust="spacingAndGlyphs">Cohort study</text>
<text class="r" x="308.25" y="778.75" font-size="10.00" text-anchor="end" textLength="16.52" lengthAdjust="spacingAndGlyphs">1.610</text>
<text class="r" x="337.50" y="778.75" font-size="10.00" text-anchor="end" textLength="16.52" lengthAdjust="spacingAndGlyphs">0.554</text>
<text class="r" x="367.00" y="778.75" font-size="10.00" text-anchor="end" textLength="16.52" lengthAdjust="spacingAndGlyphs">4.678</text>
<text class="r" x="399.25" y="778.75" font-size="10.00" text-anchor="end" textLength="16.52" lengthAdjust="spacingAndGlyphs">0.875</text>
<text class="r" x="431.25" y="778.75" font-size="10.00" text-anchor="end" textLength="16.52" lengthAdjust="spacingAndGlyphs">0.381</text>
<text class="r" x="43.00" y="792.33" font-size="10.00" textLength="38.78" lengthAdjust="spacingAndGlyphs">Cohort study</text>
<text class="r" x="308.25" y="792.33" font-size="10.00" text-anchor="end" textLength="16.52" lengthAdjust="spacingAndGlyphs">1.610</text>
<text class="r" x="337.50" y="792.33" font-size="10.00" text-anchor="end" textLength="16.52" lengthAdjust="spacingAndGlyphs">0.554</text>
<text class="r" x="367.00" y="792.33" font-size="10.00" text-anchor="end" textLength="16.52" lengthAdjust="spacingAndGlyphs">4.678</text>
<text class="r" x="399.25" y="792.33" font-size="10.00" text-anchor="end" textLength="16.52" lengthAdjust="spacingAndGlyphs">0.875</text>
<text class="r" x="431.25" y="792.33" font-size="10.00" text-anchor="end" textLength="16.52" lengthAdjust="spacingAndGlyphs">0.381</text>
<text class="r" x="43.00" y="805.90" font-size="10.00" textLength="14.06" lengthAdjust="spacingAndGlyphs">RCT</text>
<text class="r" x="167.75" y="805.90" font-size="10.00" textLength="49.10" lengthAdjust="spacingAndGlyphs">Aberg et al 2005</text>
<text class="r" x="245.00" y="805.90" font-size="10.00" textLength="14.06" lengthAdjust="spacingAndGlyphs">RCT</text>
<text class="r" x="308.25" y="805.90" font-size="10.00" text-anchor="end" textLength="16.52" lengthAdjust="spacingAndGlyphs">0.341</text>
<text class="r" x="337.50" y="805.90" font-size="10.00" text-anchor="end" textLength="16.52" lengthAdjust="spacingAndGlyphs">0.036</text>
<text class="r" x="367.00" y="805.90" font-size="10.00" text-anchor="end" textLength="16.52" lengthAdjust="spacingAndGlyphs">3.215</text>
<text class="r" x="399.25" y="805.90" font-size="10.00" text-anchor="end" textLength="18.71" lengthAdjust="spacingAndGlyphs">-0.940</text>
<text class="r" x="431.25" y="805.90" font-size="10.00" text-anchor="end" textLength="16.52" lengthAdjust="spacingAndGlyphs">0.347</text>
<text class="r" x="43.00" y="819.48" font-size="10.00" textLength="14.06" lengthAdjust="spacingAndGlyphs">RCT</text>
<text class="r" x="167.75" y="819.48" font-size="10.00" textLength="52.45" lengthAdjust="spacingAndGlyphs">Bonnet et al 2007</text>
<text class="r" x="245.00" y="819.48" font-size="10.00" textLength="14.06" lengthAdjust="spacingAndGlyphs">RCT</text>
<text class="r" x="308.25" y="819.48" font-size="10.00" text-anchor="end" textLength="16.52" lengthAdjust="spacingAndGlyphs">2.250</text>
<text class="r" x="337.50" y="819.48" font-size="10.00" text-anchor="end" textLength="16.52" lengthAdjust="spacingAndGlyphs">0.278</text>
<text class="r" x="367.00" y="819.48" font-size="10.00" text-anchor="end" textLength="20.19" lengthAdjust="spacingAndGlyphs">18.221</text>
<text class="r" x="399.25" y="819.48" font-size="10.00" text-anchor="end" textLength="16.52" lengthAdjust="spacingAndGlyphs">0.760</text>
<text class="r" x="431.25" y="819.48" font-size="10.00" text-anchor="end" textLength="16.52" lengthAdjust="spacingAndGlyphs">0.447</text>
<text class="r" x="43.00" y="833.05" font-size="10.00" textLength="14.06" lengthAdjust="spacingAndGlyphs">RCT</text>
<text class="r" x="167.75" y="833.05" font-size="10.00" textLength="52.07" lengthAdjust="spacingAndGlyphs">Eckard et al 2014</text>
<text class="r" x="245.00" y="833.05" font-size="10.00" textLength="14.06" lengthAdjust="spacingAndGlyphs">RCT</text>
<text class="r" x="308.25" y="833.05" font-size="10.00" text-anchor="end" textLength="16.52" lengthAdjust="spacingAndGlyphs">5.205</text>
<text class="r" x="337.50" y="833.05" font-size="10.00" text-anchor="end" textLength="16.52" lengthAdjust="spacingAndGlyphs">0.254</text>
<text class="r" x="367.00" y="833.05" font-size="10.00" text-anchor="end" textLength="23.86" lengthAdjust="spacingAndGlyphs">106.595</text>
<text class="r" x="399.25" y="833.05" font-size="10.00" text-anchor="end" textLength="16.52" lengthAdjust="spacingAndGlyphs">1.071</text>
<text class="r" x="431.25" y="833.05" font-size="10.00" text-anchor="end" textLength="16.52" lengthAdjust="spacingAndGlyphs">0.284</text>
<text class="r" x="43.00" y="846.62" font-size="10.00" textLength="14.06" lengthAdjust="spacingAndGlyphs">RCT</text>
<text class="r" x="167.75" y="846.62" font-size="10.00" textLength="65.83" lengthAdjust="spacingAndGlyphs">Funderburg et al 2015</text>
<text class="r" x="245.00" y="846.62" font-size="10.00" textLength="14.06" lengthAdjust="spacingAndGlyphs">RCT</text>
<text class="r" x="308.25" y="846.62" font-size="10.00" text-anchor="end" textLength="16.52" lengthAdjust="spacingAndGlyphs">0.521</text>
<text class="r" x="337.50" y="846.62" font-size="10.00" text-anchor="end" textLength="16.52" lengthAdjust="spacingAndGlyphs">0.048</text>
<text class="r" x="367.00" y="846.62" font-size="10.00" text-anchor="end" textLength="16.52" lengthAdjust="spacingAndGlyphs">5.620</text>
<text class="r" x="399.25" y="846.62" font-size="10.00" text-anchor="end" textLength="18.71" lengthAdjust="spacingAndGlyphs">-0.538</text>
<text class="r" x="431.25" y="846.62" font-size="10.00" text-anchor="end" textLength="16.52" lengthAdjust="spacingAndGlyphs">0.591</text>
<text class="r" x="43.00" y="860.20" font-size="10.00" textLength="14.06" lengthAdjust="spacingAndGlyphs">RCT</text>
<text class="r" x="167.75" y="860.20" font-size="10.00" textLength="38.69" lengthAdjust="spacingAndGlyphs">Lo et al 2015</text>
<text class="r" x="245.00" y="860.20" font-size="10.00" textLength="14.06" lengthAdjust="spacingAndGlyphs">RCT</text>
<text class="r" x="308.25" y="860.20" font-size="10.00" text-anchor="end" textLength="16.52" lengthAdjust="spacingAndGlyphs">1.326</text>
<text class="r" x="337.50" y="860.20" font-size="10.00" text-anchor="end" textLength="16.52" lengthAdjust="spacingAndGlyphs">0.482</text>
<text class="r" x="367.00" y="860.20" font-size="10.00" text-anchor="end" textLength="16.52" lengthAdjust="spacingAndGlyphs">3.648</text>
<text class="r" x="399.25" y="860.20" font-size="10.00" text-anchor="end" textLength="16.52" lengthAdjust="spacingAndGlyphs">0.547</text>
<text class="r" x="431.25" y="860.20" font-size="10.00" text-anchor="end" textLength="16.52" lengthAdjust="spacingAndGlyphs">0.584</text>
<text class="r" x="43.00" y="873.77" font-size="10.00" textLength="14.06" lengthAdjust="spacingAndGlyphs">RCT</text>
<text class="r" x="167.75" y="873.77" font-size="10.00" textLength="69.93" lengthAdjust="spacingAndGlyphs">Longenecker et al 2016</text>
<text class="r" x="245.00" y="873.77" font-size="10.00" textLength="14.06" lengthAdjust="spacingAndGlyphs">RCT</text>
<text class="r" x="308.25" y="873.77" font-size="10.00" text-anchor="end" textLength="16.52" lengthAdjust="spacingAndGlyphs">3.123</text>
<text class="r" x="337.50" y="873.77" font-size="10.00" text-anchor="end" textLength="16.52" lengthAdjust="spacingAndGlyphs">0.129</text>
<text class="r" x="367.00" y="873.77" font-size="10.00" text-anchor="end" textLength="20.19" lengthAdjust="spacingAndGlyphs">75.440</text>
<text class="r" x="399.25" y="873.77" font-size="10.00" text-anchor="end" textLength="16.52" lengthAdjust="spacingAndGlyphs">0.701</text>
<text class="r" x="431.25" y="873.77" font-size="10.00" text-anchor="end" textLength="16.52" lengthAdjust="spacingAndGlyphs">0.483</text>
<text class="r" x="43.00" y="887.35" font-size="10.00" textLength="14.06" lengthAdjust="spacingAndGlyphs">RCT</text>
<text class="r" x="167.75" y="887.35" font-size="10.00" textLength="62.86" lengthAdjust="spacingAndGlyphs">Nakanjako et al 2015</text>
<text class="r" x="245.00" y="887.35" font-size="10.00" textLength="14.06" lengthAdjust="spacingAndGlyphs">RCT</text>
<text class="r" x="308.25" y="887.35" font-size="10.00" text-anchor="end" textLength="16.52" lengthAdjust="spacingAndGlyphs">1.000</text>
<text class="r" x="337.50" y="887.35" font-size="10.00" text-anchor="end" textLength="16.52" lengthAdjust="spacingAndGlyphs">0.239</text>
<text class="r" x="367.00" y="887.35" font-size="10.00" text-anchor="end" textLength="16.52" lengthAdjust="spacingAndGlyphs">4.184</text>
<text class="r" x="399.25" y="887.35" font-size="10.00" text-anchor="end" textLength="16.52" lengthAdjust="spacingAndGlyphs">0.000</text>
<text class="r" x="431.25" y="887.35" font-size="10.00" text-anchor="end" textLength="16.52" lengthAdjust="spacingAndGlyphs">1.000</text>
<text class="r" x="43.00" y="900.92" font-size="10.00" textLength="14.06" lengthAdjust="spacingAndGlyphs">RCT</text>
<text class="r" x="167.75" y="900.92" font-size="10.00" textLength="46.49" lengthAdjust="spacingAndGlyphs">Stein et al 2004</text>
<text class="r" x="245.00" y="900.92" font-size="10.00" textLength="14.06" lengthAdjust="spacingAndGlyphs">RCT</text>
<text class="r" x="308.25" y="900.92" font-size="10.00" text-anchor="end" textLength="16.52" lengthAdjust="spacingAndGlyphs">3.000</text>
<text class="r" x="337.50" y="900.92" font-size="10.00" text-anchor="end" textLength="16.52" lengthAdjust="spacingAndGlyphs">0.129</text>
<text class="r" x="367.00" y="900.92" font-size="10.00" text-anchor="end" textLength="20.19" lengthAdjust="spacingAndGlyphs">69.515</text>
<text class="r" x="399.25" y="900.92" font-size="10.00" text-anchor="end" textLength="16.52" lengthAdjust="spacingAndGlyphs">0.685</text>
<text class="r" x="431.25" y="900.92" font-size="10.00" text-anchor="end" textLength="16.52" lengthAdjust="spacingAndGlyphs">0.493</text>
<text class="r" x="43.00" y="914.50" font-size="10.00" textLength="14.06" lengthAdjust="spacingAndGlyphs">RCT</text>
<text class="r" x="308.25" y="914.50" font-size="10.00" text-anchor="end" textLength="16.52" lengthAdjust="spacingAndGlyphs">1.253</text>
<text class="r" x="337.50" y="914.50" font-size="10.00" text-anchor="end" textLength="16.52" lengthAdjust="spacingAndGlyphs">0.655</text>
<text class="r" x="367.00" y="914.50" font-size="10.00" text-anchor="end" textLength="16.52" lengthAdjust="spacingAndGlyphs">2.397</text>
<text class="r" x="399.25" y="914.50" font-size="10.00" text-anchor="end" textLength="16.52" lengthAdjust="spacingAndGlyphs">0.682</text>
<text class="r" x="431.25" y="914.50" font-size="10.00" text-anchor="end" textLength="16.52" lengthAdjust="spacingAndGlyphs">0.495</text>
<text class="r" x="43.00" y="928.08" font-size="10.00" textLength="21.67" lengthAdjust="spacingAndGlyphs">Overall</text>
<text class="r" x="308.25" y="928.08" font-size="10.00" text-anchor="end" textLength="16.52" lengthAdjust="spacingAndGlyphs">1.341</text>
<text class="r" x="337.50" y="928.08" font-size="10.00" text-anchor="end" textLength="16.52" lengthAdjust="spacingAndGlyphs">0.770</text>
<text class="r" x="367.00" y="928.08" font-size="10.00" text-anchor="end" textLength="16.52" lengthAdjust="spacingAndGlyphs">2.333</text>
<text class="r" x="399.25" y="928.08" font-size="10.00" text-anchor="end" textLength="16.52" lengthAdjust="spacingAndGlyphs">1.038</text>
<text class="r" x="431.25" y="928.08" font-size="10.00" text-anchor="end" textLength="16.52" lengthAdjust="spacingAndGlyphs">0.299</text>
<line x1="458.13" y1="768.10" x2="458.13" y2="930.50" stroke="#000" stroke-width="1.80"/>
<text class="b" x="458.13" y="946.40" font-size="9.40" text-anchor="middle" textLength="10.58" lengthAdjust="spacingAndGlyphs">0.1</text>
<line x1="485.99" y1="768.10" x2="485.99" y2="930.50" stroke="#000" stroke-width="1.80"/>
<text class="b" x="485.99" y="946.40" font-size="9.40" text-anchor="middle" textLength="10.58" lengthAdjust="spacingAndGlyphs">0.2</text>
<line x1="522.82" y1="768.10" x2="522.82" y2="930.50" stroke="#000" stroke-width="1.80"/>
<text class="b" x="522.82" y="946.40" font-size="9.40" text-anchor="middle" textLength="10.58" lengthAdjust="spacingAndGlyphs">0.5</text>
<line x1="550.68" y1="768.10" x2="550.68" y2="930.50" stroke="#000" stroke-width="1.80"/>
<text class="b" x="550.68" y="946.40" font-size="9.40" text-anchor="middle" textLength="4.23" lengthAdjust="spacingAndGlyphs">1</text>
<line x1="578.54" y1="768.10" x2="578.54" y2="930.50" stroke="#000" stroke-width="1.80"/>
<text class="b" x="578.54" y="946.40" font-size="9.40" text-anchor="middle" textLength="4.23" lengthAdjust="spacingAndGlyphs">2</text>
<line x1="615.37" y1="768.10" x2="615.37" y2="930.50" stroke="#000" stroke-width="1.80"/>
<text class="b" x="615.37" y="946.40" font-size="9.40" text-anchor="middle" textLength="4.23" lengthAdjust="spacingAndGlyphs">5</text>
<line x1="643.23" y1="768.10" x2="643.23" y2="930.50" stroke="#000" stroke-width="1.80"/>
<text class="b" x="643.23" y="946.40" font-size="9.40" text-anchor="middle" textLength="8.47" lengthAdjust="spacingAndGlyphs">10</text>
<text class="b" x="481.00" y="971.00" font-size="9.20" textLength="48.50" lengthAdjust="spacingAndGlyphs">Statin therapy</text>
<text class="b" x="569.50" y="971.00" font-size="9.20" textLength="55.50" lengthAdjust="spacingAndGlyphs">Placebo/Control</text>
<line x1="526.94" y1="774.92" x2="612.69" y2="774.92" stroke="#000" stroke-width="1.80"/>
<rect x="565.32" y="769.62" width="9.00" height="10.60" fill="#000"/>
<polygon points="525.94,788.89 569.82,782.89 613.69,788.89 569.82,794.89" fill="#000"/>
<line x1="458.13" y1="802.07" x2="597.62" y2="802.07" stroke="#000" stroke-width="1.80"/>
<polyline points="462.43,798.67 458.43,802.07 462.43,805.47" fill="none" stroke="#000" stroke-width="1.1"/>
<rect x="505.94" y="800.57" width="3.00" height="3.00" fill="#000"/>
<line x1="499.23" y1="815.64" x2="643.23" y2="815.64" stroke="#000" stroke-width="1.80"/>
<polyline points="639.43,812.85 642.93,815.64 639.43,818.44" fill="none" stroke="#000" stroke-width="1.0"/>
<rect x="581.47" y="813.85" width="3.60" height="3.60" fill="#000"/>
<line x1="495.60" y1="829.22" x2="643.23" y2="829.22" stroke="#000" stroke-width="1.80"/>
<polyline points="639.43,826.42 642.93,829.22 639.43,832.02" fill="none" stroke="#000" stroke-width="1.0"/>
<rect x="615.88" y="828.12" width="2.20" height="2.20" fill="#000"/>
<line x1="458.13" y1="842.79" x2="620.07" y2="842.79" stroke="#000" stroke-width="1.80"/>
<polyline points="462.43,839.39 458.43,842.79 462.43,846.19" fill="none" stroke="#000" stroke-width="1.1"/>
<rect x="522.97" y="841.29" width="3.00" height="3.00" fill="#000"/>
<line x1="521.35" y1="856.37" x2="602.70" y2="856.37" stroke="#000" stroke-width="1.80"/>
<rect x="559.40" y="853.74" width="5.25" height="5.25" fill="#000"/>
<line x1="468.37" y1="869.94" x2="643.23" y2="869.94" stroke="#000" stroke-width="1.80"/>
<polyline points="639.43,867.14 642.93,869.94 639.43,872.74" fill="none" stroke="#000" stroke-width="1.0"/>
<rect x="595.35" y="868.84" width="2.20" height="2.20" fill="#000"/>
<line x1="493.15" y1="883.52" x2="608.21" y2="883.52" stroke="#000" stroke-width="1.80"/>
<rect x="548.98" y="881.02" width="3.40" height="5.00" fill="#000"/>
<line x1="468.37" y1="897.09" x2="643.23" y2="897.09" stroke="#000" stroke-width="1.80"/>
<polyline points="639.43,894.29 642.93,897.09 639.43,899.89" fill="none" stroke="#000" stroke-width="1.0"/>
<rect x="593.74" y="895.99" width="2.20" height="2.20" fill="#000"/>
<polygon points="532.67,911.07 559.75,905.07 586.82,911.07 559.75,917.07" fill="#000"/>
<polygon points="539.17,924.64 562.47,918.64 585.73,924.64 562.47,930.64" fill="#f00"/>
</g>
</svg>
</body>
</html>
